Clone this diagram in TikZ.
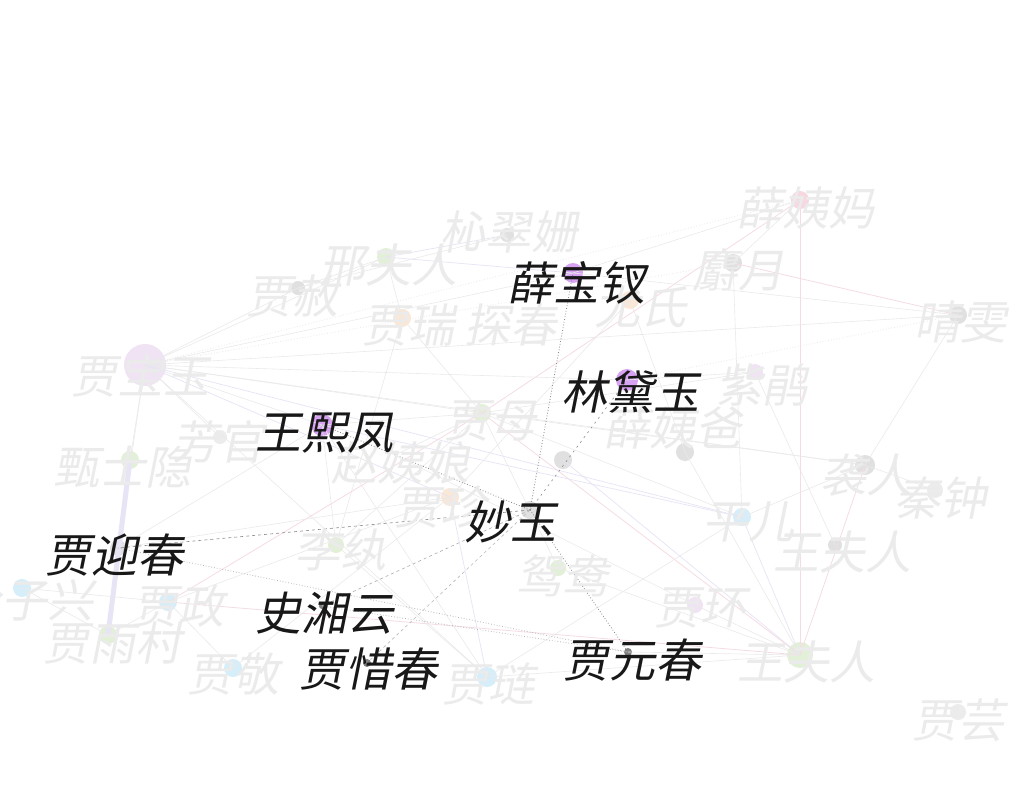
\documentclass[tikz,border=0pt]{standalone}
\usepackage{fontspec}
\newfontfamily\cjk[FakeSlant=0.2]{Noto Sans CJK SC}
\definecolor{fadetxt}{HTML}{EBEBEB}
\definecolor{darktxt}{HTML}{181818}
\definecolor{egray}{HTML}{EAEAEA}
\definecolor{epink}{HTML}{F5DCE2}
\definecolor{elav}{HTML}{E6E4F5}
\definecolor{hgray}{HTML}{8A8A8A}
\definecolor{cpurple}{HTML}{D8A2F2}
\definecolor{cpurple2}{HTML}{F0E4F4}
\definecolor{cgreen}{HTML}{E3F0D8}
\definecolor{cblue}{HTML}{D6EEF9}
\definecolor{cpeach}{HTML}{FBE7D6}
\definecolor{cgray}{HTML}{E0E0E0}
\definecolor{cpink}{HTML}{F7D8E0}
\tikzset{
  ndot/.style={circle,inner sep=0pt,minimum size=#1},
  lbl/.style={inner sep=0pt,font=\cjk\fontsize{46}{50}\selectfont},
  fadedlbl/.style={lbl,text=fadetxt},
  darklbl/.style={lbl,text=darktxt},
  fedge/.style={draw=egray,line width=0.6pt},
  pedge/.style={draw=epink,line width=0.8pt},
  ledge/.style={draw=elav,line width=0.7pt},
  hdot/.style={draw=hgray,dotted,line width=0.8pt},
  hdash/.style={draw=hgray,line width=0.6pt,dash pattern=on 3pt off 3pt},
}
\begin{document}
\begin{tikzpicture}[x=1pt,y=-1pt]
\useasboundingbox (0,0) rectangle (1024,784);
\clip (0,0) rectangle (1024,784);
\fill[white] (0,0) rectangle (1024,784);
% dots
\node[ndot=18pt,fill=cpink] (xyjm) at (800,200) {};
\node[ndot=18pt,fill=cgray] (sy) at (733,263) {};
\node[ndot=18pt,fill=cgray] (qw) at (958,315) {};
\node[ndot=18pt,fill=cgreen] (xfr) at (386,257) {};
\node[ndot=14pt,fill=cgray] (js) at (298,288) {};
\node[ndot=14pt,fill=cgray] (xcs) at (507,235) {};
\node[ndot=20pt,fill=cpurple] (xbc) at (573,273) {};
\node[ndot=18pt,fill=cpeach] (jr) at (402,318) {};
\node[ndot=4pt] (tc) at (505,318) {};
\node[ndot=18pt,fill=cpeach] (ys) at (630,300) {};
\node[ndot=42pt,fill=cpurple2] (jby) at (145,365) {};
\node[ndot=16pt,fill=cpurple2] (zj) at (755,372) {};
\node[ndot=22pt,fill=cpurple] (ldy) at (627,380) {};
\node[ndot=18pt,fill=cgreen] (jm) at (482,413) {};
\node[ndot=14pt,fill=cgray!60] (fg) at (220,437) {};
\node[ndot=22pt,fill=cpurple] (whf) at (322,425) {};
\node[ndot=6pt] (zyn) at (395,455) {};
\node[ndot=4pt] (xyb) at (665,418) {};
\node[ndot=18pt,fill=cgray] (ua) at (563,460) {};
\node[ndot=18pt,fill=cgray] (ub) at (685,452) {};
\node[ndot=18pt,fill=cgreen] (zsy) at (130,460) {};
\node[ndot=18pt,fill=cpeach] (jz) at (450,497) {};
\node[ndot=18pt,fill=cgray] (my) at (530,510) {};
\node[ndot=16pt,fill=cgray] (jyc) at (118,548) {};
\node[ndot=16pt,fill=cgreen] (lw) at (336,545) {};
\node[ndot=18pt,fill=cblue] (py) at (742,517) {};
\node[ndot=20pt,fill=cgray] (xr) at (865,465) {};
\node[ndot=16pt,fill=cgray!60] (qz) at (935,490) {};
\node[ndot=14pt,fill=cgray] (wfrb) at (835,545) {};
\node[ndot=16pt,fill=cgreen] (yy) at (558,568) {};
\node[ndot=16pt,fill=cpurple2] (jh) at (695,605) {};
\node[ndot=18pt,fill=cblue] (lzx) at (22,588) {};
\node[ndot=18pt,fill=cblue] (jzh) at (168,602) {};
\node[ndot=6pt,fill=gray] (sxy) at (322,606) {};
\node[ndot=18pt,fill=cgreen] (jyu) at (108,635) {};
\node[ndot=18pt,fill=cblue] (jj) at (233,668) {};
\node[ndot=8pt,fill=gray] (jxc) at (367,663) {};
\node[ndot=20pt,fill=cblue] (jl) at (487,677) {};
\node[ndot=8pt,fill=gray] (jyc2) at (628,652) {};
\node[ndot=26pt,fill=cgreen] (wfr) at (800,655) {};
\node[ndot=16pt,fill=cgray!60] (jy) at (958,712) {};
% faint edges
\draw[fedge] (jby.center) -- (xbc.center);
\draw[fedge] (jby.center) -- (ldy.center);
\draw[fedge] (jby.center) -- (whf.center);
\draw[fedge] (jby.center) -- (jm.center);
\draw[fedge] (jby.center) -- (xr.center);
\draw[fedge] (jby.center) -- (fg.center);
\draw[fedge] (jby.center) -- (js.center);
\draw[fedge] (jby.center) -- (xfr.center);
\draw[fedge] (jby.center) -- (jl.center);
\draw[fedge] (jby.center) -- (jyc.center);
\draw[fedge] (jby.center) -- (qw.center);
\draw[hdot,draw=egray] (jby.center) -- (xyjm.center);
\draw[hdot,draw=egray] (jby.center) -- (sy.center);
\draw[ledge] (jby.center) -- (jz.center);
\draw[ledge] (jby.center) -- (py.center);
\draw[fedge] (zsy.center) -- (jby.center);
\draw[fedge] (xyjm.center) -- (sy.center);
\draw[pedge] (sy.center) -- (qw.center);
\draw[fedge] (sy.center) -- (py.center);
\draw[hdot,draw=egray] (qw.center) -- (ldy.center);
\draw[fedge] (qw.center) -- (xr.center);
\draw[fedge] (xr.center) -- (py.center);
\draw[fedge] (xr.center) -- (qz.center);
\draw[pedge] (xr.center) -- (wfr.center);
\draw[fedge] (xr.center) -- (jm.center);
\draw[fedge] (xfr.center) -- (js.center);
\draw[ledge] (xfr.center) -- (xcs.center);
\draw[ledge] (xfr.center) -- (xbc.center);
\draw[fedge] (xfr.center) -- (jr.center);
\draw[fedge] (jr.center) -- (jm.center);
\draw[fedge] (jr.center) -- (lw.center);
\draw[fedge] (jm.center) -- (whf.center);
\draw[pedge] (jm.center) -- (wfr.center);
\draw[fedge] (jm.center) -- (lw.center);
\draw[fedge] (jm.center) -- (yy.center);
\draw[fedge] (jm.center) -- (py.center);
\draw[fedge] (jm.center) -- (zj.center);
\draw[fedge] (ldy.center) -- (zj.center);
\draw[fedge] (zj.center) -- (wfrb.center);
\draw[ledge] (whf.center) -- (py.center);
\draw[fedge] (whf.center) -- (jl.center);
\draw[fedge] (whf.center) -- (lw.center);
\draw[fedge] (whf.center) -- (jyc.center);
\draw[elav,line width=5pt] (zsy.center) -- (jyu.center);
\draw[fedge] (lzx.center) -- (jzh.center);
\draw[fedge] (lzx.center) -- (jyu.center);
\draw[pedge] (jzh.center) -- (jm.center);
\draw[pedge] (jzh.center) -- (wfr.center);
\draw[fedge] (jzh.center) -- (jj.center);
\draw[fedge] (jzh.center) -- (jyu.center);
\draw[fedge] (jzh.center) -- (jz.center);
\draw[fedge] (jl.center) -- (wfr.center);
\draw[ledge] (jl.center) -- (jz.center);
\draw[fedge] (jl.center) -- (py.center);
\draw[fedge] (jyc2.center) -- (wfr.center);
\draw[fedge] (jh.center) -- (wfr.center);
\draw[fedge] (yy.center) -- (wfr.center);
\draw[ledge] (py.center) -- (wfr.center);
\draw[ledge] (ua.center) -- (wfr.center);
\draw[pedge] (xyjm.center) -- (wfr.center);
\draw[pedge] (xyjm.center) -- (jm.center);
\draw[fedge] (xyjm.center) -- (xbc.center);
\draw[fedge] (ys.center) -- (jz.center);
\draw[fedge] (ys.center) -- (ub.center);
\draw[fedge] (ub.center) -- (wfr.center);
\draw[fedge] (jh.center) -- (zyn.center);
\draw[fedge] (zyn.center) -- (jm.center);
\draw[fedge] (jyc.center) -- (jz.center);
\draw[fedge] (lw.center) -- (jl.center);
\draw[fedge] (jj.center) -- (jz.center);
\draw[fedge] (xcs.center) -- (js.center);
\draw[fedge] (qw.center) -- (xbc.center);
% highlighted edges
\draw[hdot] (my.center) -- (xbc.center);
\draw[hdash,dash pattern=on 2pt off 4pt] (my.center) -- (ldy.center);
\draw[hdot] (my.center) -- (whf.center);
\draw[hdash] (my.center) -- (jyc.center);
\draw[hdash,draw=hgray!70] (my.center) -- (sxy.center);
\draw[hdot] (my.center) -- (jyc2.center);
\draw[hdash,draw=hgray!60] (my.center) -- (jxc.center);
\draw[hdot,draw=hgray!60] (jyc.center) -- (jyc2.center);
\draw[hdot,draw=hgray!60] (sxy.center) -- (jyc2.center);
% faded labels
\node[fadedlbl] (xyjm-l) at (805,208) {薛姨妈};
\node[fadedlbl] (sy-l) at (738,270) {麝月};
\node[fadedlbl] (qw-l) at (960,322) {晴雯};
\node[fadedlbl] (xfr-l) at (388,265) {邢夫人};
\node[fadedlbl] (js-l) at (292,296) {贾赦};
\node[fadedlbl] (xcs-l) at (508,232) {杺翠姗};
\node[fadedlbl] (jr-l) at (408,325) {贾瑞};
\node[fadedlbl] (tc-l) at (510,325) {探春};
\node[fadedlbl] (ys-l) at (640,307) {尤氏};
\node[fadedlbl] (jby-l) at (140,376) {贾宝玉};
\node[fadedlbl] (zj-l) at (762,385) {紫鹃};
\node[fadedlbl] (jm-l) at (490,421) {贾母};
\node[fadedlbl] (fg-l) at (218,442) {芳官};
\node[fadedlbl] (zyn-l) at (400,463) {赵姨娘};
\node[fadedlbl] (xyb-l) at (672,428) {薛姨爸};
\node[fadedlbl] (zsy-l) at (122,467) {甄士隐};
\node[fadedlbl] (jz-l) at (440,507) {贾珍};
\node[fadedlbl] (lw-l) at (340,550) {李纨};
\node[fadedlbl] (py-l) at (748,522) {平儿};
\node[fadedlbl] (xr-l) at (866,475) {袭人};
\node[fadedlbl] (qz-l) at (940,498) {秦钟};
\node[fadedlbl] (wfrb-l) at (842,552) {王夫人};
\node[fadedlbl] (yy-l) at (562,576) {鸳鸯};
\node[fadedlbl] (jh-l) at (700,608) {贾环};
\node[fadedlbl] (lzx-l) at (25,600) {冷子兴};
\node[fadedlbl] (jzh-l) at (178,606) {贾政};
\node[fadedlbl] (jyu-l) at (112,643) {贾雨村};
\node[fadedlbl] (jj-l) at (233,674) {贾敬};
\node[fadedlbl] (jl-l) at (488,684) {贾琏};
\node[fadedlbl] (wfr-l) at (806,662) {王夫人};
\node[fadedlbl] (jy-l) at (958,720) {贾芸};
% dark labels
\node[darklbl] (xbc-l) at (576,283) {薛宝钗};
\node[darklbl] (ldy-l) at (630,392) {林黛玉};
\node[darklbl] (whf-l) at (324,433) {王熙凤};
\node[darklbl] (my-l) at (510,522) {妙玉};
\node[darklbl] (jyc-l) at (114,555) {贾迎春};
\node[darklbl] (sxy-l) at (324,613) {史湘云};
\node[darklbl] (jxc-l) at (368,669) {贾惜春};
\node[darklbl] (jyc2-l) at (632,660) {贾元春};
\end{tikzpicture}
\end{document}
